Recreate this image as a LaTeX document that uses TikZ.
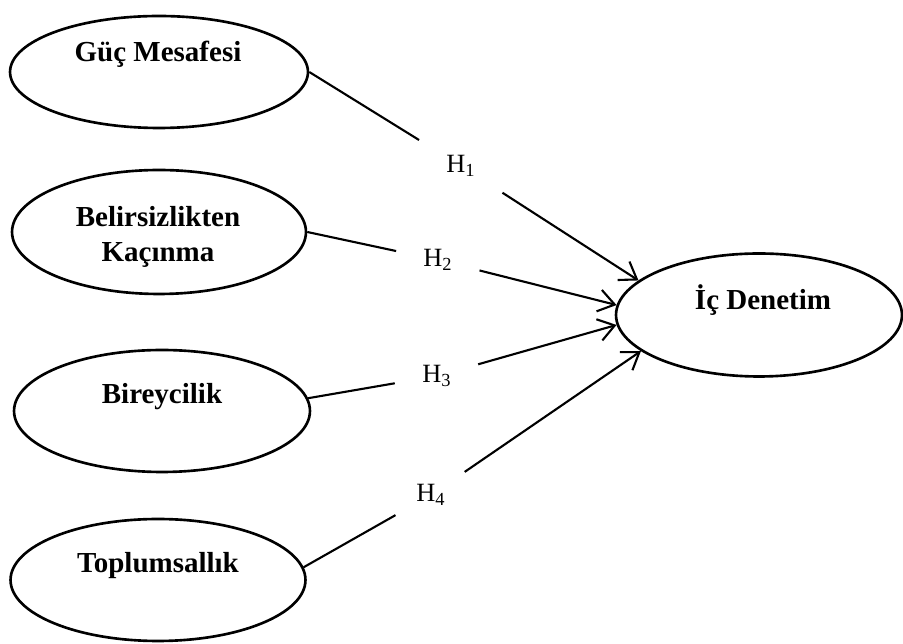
\documentclass[tikz,border=0pt]{standalone}
\usepackage{fontspec}
\setmainfont{Liberation Serif}
\usetikzlibrary{arrows.meta,shapes.geometric}
\tikzset{
  hipvar/.style={
    draw,
    ellipse,
    line width=1.5pt,
    inner sep=0pt
  },
  hipname/.style={
    font=\fontsize{16.5}{20}\selectfont\bfseries,
    align=center,
    anchor=base,
    inner sep=0pt
  },
  hipgap/.style={
    circle,
    inner sep=0pt,
    minimum size=1.7cm,
    font=\fontsize{15}{17}\selectfont
  },
  hipline/.style={line width=1.2pt},
  hiparrow/.style={-{Straight Barb[length=3.2mm,width=4.4mm]},line width=1.2pt}
}

\begin{document}
\begin{tikzpicture}[x=0.02cm,y=-0.02cm]
  \useasboundingbox (0,0) rectangle (903,644);
  % latent variables
  \node[hipvar,minimum width=5.96cm,minimum height=2.24cm] (guc) at (159,72) {};
  \node[hipvar,minimum width=5.88cm,minimum height=2.48cm] (bel) at (159,232) {};
  \node[hipvar,minimum width=5.92cm,minimum height=2.44cm] (bir) at (162,411) {};
  \node[hipvar,minimum width=5.9cm,minimum height=2.44cm] (top) at (158,580) {};
  \node[hipvar,minimum width=5.72cm,minimum height=2.46cm] (ic) at (759,315) {};
  \node[hipname] (gucTxt) at (158,62) {Güç Mesafesi};
  \node[hipname,anchor=center] (belTxt) at (158,237) {Belirsizlikten\\Kaçınma};
  \node[hipname] (birTxt) at (162,404) {Bireycilik};
  \node[hipname] (topTxt) at (158,573) {Toplumsallık};
  \node[hipname] (icTxt) at (763,310) {İç Denetim};
  % hypotheses
  \node[hipgap,minimum size=1.96cm] (h1) at (461,166) {H\textsubscript{1}};
  \node[hipgap] (h2) at (438,260) {H\textsubscript{2}};
  \node[hipgap] (h3) at (437,376) {H\textsubscript{3}};
  \node[hipgap,minimum size=1.62cm] (h4) at (431,495) {H\textsubscript{4}};
  \draw[hipline] (guc.east) -- (h1);
  \draw[hiparrow] (h1) -- (ic.164);
  \draw[hipline] (bel.east) -- (h2);
  \draw[hiparrow] (h2) -- (ic.176);
  \draw[hipline] (bir.5) -- (h3);
  \draw[hiparrow] (h3) -- (ic.184);
  \draw[hipline] (top.5) -- (h4);
  \draw[hiparrow] (h4) -- (ic.197);
\end{tikzpicture}
\end{document}
